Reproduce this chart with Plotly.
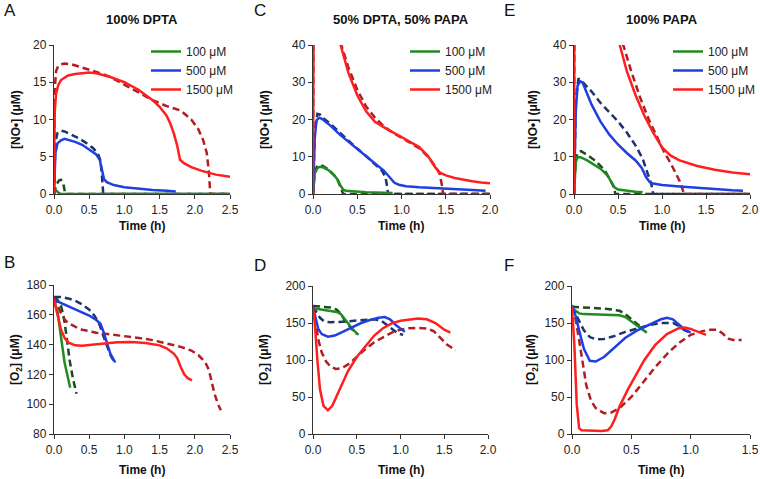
import plotly.graph_objects as go

# ---- colours ----
GREEN, BLUE, RED = "#1f8c1f", "#1f3fe0", "#ff1f1f"
DGREEN, DBLUE, DRED = "#1d4a1f", "#1d3468", "#b21d22"

LABELS = ["100 μM", "500 μM", "1500 μM"]

# ---- A: [NO] 100% DPTA ----
a_100_t = [0, 0.01, 0.03, 0.06, 0.1, 2.5]
a_100_v = [0, 0.4, 0.5, 0.2, 0, 0]
a_100d_t = [0, 0.03, 0.07, 0.1, 0.13, 0.15, 0.16, 2.5]
a_100d_v = [0, 1.2, 1.8, 1.9, 1.5, 0.6, 0, 0]
a_500_t = [0, 0.02, 0.05, 0.1, 0.15, 0.2, 0.3, 0.4, 0.5, 0.6, 0.65, 0.68, 0.71, 0.75, 0.85, 1.0, 1.2, 1.4, 1.6, 1.73]
a_500_v = [0, 5.5, 6.8, 7.2, 7.4, 7.3, 7.0, 6.6, 6.0, 5.3, 4.6, 3.5, 2.0, 1.6, 1.2, 0.9, 0.7, 0.55, 0.42, 0.35]
a_500d_t = [0, 0.02, 0.05, 0.1, 0.15, 0.25, 0.35, 0.45, 0.55, 0.62, 0.66, 0.68, 0.69, 0.7, 2.5]
a_500d_v = [0, 7.0, 8.2, 8.5, 8.4, 8.0, 7.5, 6.9, 6.2, 5.5, 4.5, 2.5, 0.8, 0, 0]
a_1500_t = [0, 0.01, 0.03, 0.06, 0.1, 0.2, 0.3, 0.4, 0.5, 0.6, 0.8, 1.0, 1.2, 1.4, 1.5, 1.6, 1.65, 1.7, 1.75, 1.79, 1.85, 1.95, 2.1, 2.3, 2.5]
a_1500_v = [0, 11, 13.5, 14.6, 15.3, 15.9, 16.1, 16.2, 16.3, 16.2, 15.7, 15.0, 14.0, 12.6, 11.7, 10.5, 9.5, 8.2, 6.5, 4.6, 4.1, 3.6, 3.1, 2.6, 2.3]
a_1500d_t = [0, 0.01, 0.03, 0.06, 0.1, 0.15, 0.25, 0.4, 0.6, 0.8, 1.0, 1.2, 1.4, 1.6, 1.8, 1.95, 2.05, 2.12, 2.17, 2.2, 2.21, 2.22, 2.5]
a_1500d_v = [0, 14, 16.5, 17.2, 17.4, 17.5, 17.4, 17.0, 16.4, 15.7, 14.7, 13.6, 12.6, 11.8, 11.2, 10.0, 8.7, 7.2, 5.5, 3.0, 1.0, 0, 0]

# ---- C: [NO] 50% DPTA, 50% PAPA ----
c_100_t = [0, 0.02, 0.05, 0.08, 0.12, 0.18, 0.24, 0.28, 0.31, 0.34, 0.37, 0.45, 0.6, 0.8, 0.9]
c_100_v = [0, 5.5, 7.0, 7.3, 7.1, 6.3, 5.0, 3.8, 2.3, 1.2, 0.9, 0.7, 0.5, 0.35, 0.3]
c_100d_t = [0, 0.02, 0.05, 0.08, 0.12, 0.18, 0.24, 0.28, 0.31, 0.33, 0.34, 2.0]
c_100d_v = [0, 6.2, 7.6, 7.8, 7.4, 6.5, 5.0, 3.6, 2.0, 0.8, 0, 0]
c_500_t = [0, 0.02, 0.04, 0.07, 0.1, 0.2, 0.3, 0.4, 0.5, 0.6, 0.7, 0.8, 0.85, 0.88, 0.92, 0.97, 1.05, 1.2, 1.4, 1.6, 1.8, 1.95]
c_500_v = [0, 15, 19.8, 20.5, 20.2, 18.3, 16.0, 14.0, 12.0, 10.1, 8.2, 6.3, 5.0, 4.0, 3.0, 2.5, 2.1, 1.8, 1.5, 1.3, 1.1, 0.9]
c_500d_t = [0, 0.02, 0.05, 0.08, 0.1, 0.2, 0.3, 0.4, 0.5, 0.6, 0.7, 0.78, 0.82, 0.84, 0.85, 2.0]
c_500d_v = [0, 17, 21.5, 21.3, 20.6, 18.8, 16.5, 14.3, 12.2, 10.2, 8.0, 6.2, 4.5, 2.0, 0, 0]
c_1500_t = [0, 0.004, 0.01, 0.1, 0.2, 0.3, 0.4, 0.5, 0.6, 0.7, 0.85, 1.0, 1.1, 1.2, 1.3, 1.38, 1.43, 1.5, 1.6, 1.7, 1.8, 1.9, 2.0]
c_1500_v = [0, 60, 80, 60, 48, 41, 32.5, 26.5, 22.2, 19.4, 17.2, 15.3, 14.0, 12.6, 10.2, 7.2, 5.8, 5.0, 4.3, 3.8, 3.4, 3.1, 2.9]
c_1500d_t = [0, 0.004, 0.01, 0.1, 0.2, 0.32, 0.4, 0.5, 0.6, 0.7, 0.8, 0.9, 1.0, 1.1, 1.2, 1.3, 1.38, 1.43, 1.46, 1.47, 2.0]
c_1500d_v = [0, 60, 85, 62, 50, 40, 34, 28, 23.5, 20.5, 18.2, 16.5, 15.0, 13.7, 12.3, 10.0, 7.5, 5.5, 2.0, 0, 0]

# ---- E: [NO] 100% PAPA ----
e_100_t = [0, 0.02, 0.04, 0.08, 0.15, 0.2, 0.3, 0.38, 0.43, 0.46, 0.5, 0.6, 0.7, 0.78]
e_100_v = [0, 8.5, 9.9, 9.8, 9.0, 8.3, 6.8, 5.0, 3.2, 1.8, 1.2, 0.8, 0.6, 0.5]
e_100d_t = [0, 0.02, 0.05, 0.08, 0.15, 0.25, 0.35, 0.41, 0.44, 0.46, 0.47, 2.0]
e_100d_v = [0, 9.5, 11.3, 11.5, 10.5, 8.8, 6.3, 4.0, 2.5, 1.0, 0, 0]
e_500_t = [0, 0.02, 0.04, 0.07, 0.1, 0.15, 0.2, 0.3, 0.4, 0.5, 0.6, 0.7, 0.77, 0.82, 0.86, 0.9, 1.0, 1.2, 1.4, 1.6, 1.8, 1.92]
e_500_v = [0, 22, 29, 30.3, 29.8, 27.0, 24.0, 19.5, 16.0, 13.3, 11.0, 9.0, 7.0, 4.5, 3.2, 2.8, 2.4, 2.0, 1.6, 1.3, 1.0, 0.9]
e_500d_t = [0, 0.02, 0.05, 0.1, 0.2, 0.3, 0.4, 0.5, 0.6, 0.7, 0.78, 0.84, 0.88, 0.9, 2.0]
e_500d_v = [0, 25, 31, 30, 27.5, 24.5, 22, 19.5, 16.5, 13, 9.5, 5.5, 2.5, 0, 0]
e_1500_t = [0, 0.004, 0.01, 0.2, 0.4, 0.52, 0.6, 0.7, 0.8, 0.9, 1.0, 1.1, 1.2, 1.4, 1.6, 1.8, 2.0]
e_1500_v = [0, 80, 120, 70, 50, 40, 33, 26.5, 21, 16.5, 12.5, 10.3, 9.0, 7.5, 6.5, 5.8, 5.3]
e_1500d_t = [0, 0.004, 0.01, 0.2, 0.4, 0.56, 0.65, 0.75, 0.85, 0.95, 1.03, 1.1, 1.15, 1.2, 1.23, 1.25, 2.0]
e_1500d_v = [0, 80, 120, 75, 52, 40, 33, 26, 20, 15, 11, 8.2, 6, 3.5, 1.5, 0, 0]

# ---- B: [O2] 100% DPTA ----
b_100_t = [0, 0.05, 0.1, 0.15, 0.23]
b_100_v = [170, 162, 145, 128, 111]
b_100d_t = [0, 0.05, 0.1, 0.14, 0.18, 0.22, 0.27, 0.32]
b_100d_v = [172, 170, 166, 158, 145, 130, 117, 107]
b_500_t = [0, 0.1, 0.2, 0.3, 0.4, 0.5, 0.6, 0.66, 0.7, 0.75, 0.8, 0.87]
b_500_v = [170, 168, 166, 164, 162, 159.5, 156.5, 154, 149, 141, 134, 128]
b_500d_t = [0, 0.1, 0.2, 0.3, 0.4, 0.5, 0.58, 0.65, 0.7, 0.75, 0.8, 0.85]
b_500d_v = [172, 172, 171, 169.5, 167, 163.5, 159, 153, 146, 139, 133, 129]
b_1500_t = [0, 0.03, 0.06, 0.1, 0.15, 0.2, 0.3, 0.4, 0.5, 0.7, 0.9, 1.1, 1.3, 1.5, 1.6, 1.7, 1.75, 1.8, 1.85, 1.9, 1.96]
b_1500_v = [170, 164, 157, 150, 144.5, 141.5, 139.5, 139.3, 139.7, 140.5, 141.5, 141.8, 141, 139.5, 137.5, 134, 131, 125, 120, 117.5, 116]
b_1500d_t = [0, 0.05, 0.1, 0.15, 0.2, 0.3, 0.4, 0.6, 0.8, 1.0, 1.2, 1.4, 1.6, 1.8, 1.95, 2.05, 2.15, 2.2, 2.24, 2.28, 2.33, 2.37]
b_1500d_v = [172, 166, 161, 157, 154.5, 152, 150, 148, 147, 146, 144.5, 143, 141, 138.5, 136, 133, 128, 123, 115, 107, 100, 96]

# ---- D: [O2] 50% DPTA, 50% PAPA ----
d_100_t = [0, 0.1, 0.2, 0.27, 0.32, 0.36, 0.4, 0.45, 0.52]
d_100_v = [170, 168, 166.5, 165, 162, 156, 149, 142, 134]
d_100d_t = [0, 0.1, 0.2, 0.27, 0.32, 0.36, 0.4, 0.45, 0.5]
d_100d_v = [173, 172.5, 171, 168, 162, 154, 148, 141, 135]
d_500_t = [0, 0.03, 0.06, 0.1, 0.17, 0.25, 0.35, 0.45, 0.55, 0.65, 0.75, 0.82, 0.88, 0.95, 1.05]
d_500_v = [172, 155, 142, 135, 131.5, 133, 139, 145, 150, 154, 157, 158, 155, 147, 138]
d_500d_t = [0, 0.04, 0.08, 0.13, 0.2, 0.3, 0.4, 0.5, 0.6, 0.7, 0.78, 0.85, 0.92, 0.97, 1.03]
d_500d_v = [172, 165, 157, 152, 151, 151.5, 152.5, 153.5, 154.5, 155, 153, 147, 140, 136, 134]
d_1500_t = [0, 0.02, 0.05, 0.08, 0.12, 0.17, 0.22, 0.3, 0.4, 0.5, 0.6, 0.7, 0.8, 0.9, 1.0, 1.1, 1.2, 1.3, 1.4, 1.5, 1.57]
d_1500_v = [172, 150, 100, 60, 38, 32, 38, 60, 85, 104, 119, 133, 143, 149.5, 153, 155, 156, 155, 150, 141, 137]
d_1500d_t = [0, 0.03, 0.06, 0.1, 0.15, 0.2, 0.26, 0.33, 0.4, 0.5, 0.6, 0.7, 0.8, 0.9, 1.0, 1.1, 1.2, 1.3, 1.38, 1.45, 1.53, 1.63]
d_1500d_v = [172, 150, 128, 110, 98, 91, 88, 89, 94, 104, 115, 124, 131, 137, 141, 143, 143.5, 142.5, 139, 130, 121, 113]

# ---- F: [O2] 100% PAPA ----
f_100_t = [0, 0.03, 0.06, 0.1, 0.2, 0.3, 0.4, 0.45, 0.5, 0.55, 0.6, 0.63]
f_100_v = [170, 166, 163, 162, 161.5, 161, 160.5, 158, 152, 146, 141, 137]
f_100d_t = [0, 0.1, 0.2, 0.3, 0.4, 0.45, 0.5, 0.55, 0.6]
f_100d_v = [172, 171, 170, 169, 166.5, 162, 155, 148, 142]
f_500_t = [0, 0.03, 0.06, 0.1, 0.15, 0.2, 0.27, 0.35, 0.45, 0.55, 0.65, 0.75, 0.8, 0.85, 0.9, 0.95, 1.0]
f_500_v = [174, 160, 140, 115, 99, 98, 104, 116, 130, 140, 148, 155, 157, 155, 148, 141, 137]
f_500d_t = [0, 0.03, 0.06, 0.1, 0.15, 0.2, 0.27, 0.35, 0.45, 0.55, 0.65, 0.75, 0.85, 0.9, 0.95, 1.0]
f_500d_v = [172, 163, 153, 140, 131, 128, 128.5, 132, 138, 143, 147, 150, 150, 146, 140, 137]
f_1500_t = [0, 0.02, 0.04, 0.06, 0.08, 0.15, 0.25, 0.3, 0.33, 0.36, 0.4, 0.47, 0.55, 0.61, 0.7, 0.8, 0.9, 0.95, 1.0, 1.07, 1.13]
f_1500_v = [172, 120, 40, 8, 5, 4.5, 4, 5, 10, 20, 37, 60, 83, 100, 120, 135, 143, 144, 142, 138, 134]
f_1500d_t = [0, 0.03, 0.06, 0.09, 0.12, 0.16, 0.2, 0.27, 0.33, 0.4, 0.5, 0.6, 0.7, 0.8, 0.9, 1.0, 1.1, 1.17, 1.22, 1.27, 1.31, 1.36, 1.43]
f_1500d_v = [172, 155, 127, 95, 66, 45, 35, 28, 29, 35, 50, 70, 90, 108, 123, 134, 139, 141, 141, 136, 129, 127, 127]

panels = [
    # axis suffix, solid series, dashed series, legend name
    ("", [(a_100_t, a_100_v), (a_500_t, a_500_v), (a_1500_t, a_1500_v)],
     [(a_100d_t, a_100d_v), (a_500d_t, a_500d_v), (a_1500d_t, a_1500d_v)], "legend"),
    ("2", [(c_100_t, c_100_v), (c_500_t, c_500_v), (c_1500_t, c_1500_v)],
     [(c_100d_t, c_100d_v), (c_500d_t, c_500d_v), (c_1500d_t, c_1500d_v)], "legend2"),
    ("3", [(e_100_t, e_100_v), (e_500_t, e_500_v), (e_1500_t, e_1500_v)],
     [(e_100d_t, e_100d_v), (e_500d_t, e_500d_v), (e_1500d_t, e_1500d_v)], "legend3"),
    ("4", [(b_100_t, b_100_v), (b_500_t, b_500_v), (b_1500_t, b_1500_v)],
     [(b_100d_t, b_100d_v), (b_500d_t, b_500d_v), (b_1500d_t, b_1500d_v)], None),
    ("5", [(d_100_t, d_100_v), (d_500_t, d_500_v), (d_1500_t, d_1500_v)],
     [(d_100d_t, d_100d_v), (d_500d_t, d_500d_v), (d_1500d_t, d_1500d_v)], None),
    ("6", [(f_100_t, f_100_v), (f_500_t, f_500_v), (f_1500_t, f_1500_v)],
     [(f_100d_t, f_100d_v), (f_500d_t, f_500d_v), (f_1500d_t, f_1500d_v)], None),
]

fig = go.Figure()

for sfx, solid, dashed, leg in panels:
    xa, ya = "x" + sfx, "y" + sfx
    for (t, v), col in zip(dashed, [DGREEN, DBLUE, DRED]):
        fig.add_trace(go.Scatter(x=t, y=v, xaxis=xa, yaxis=ya, mode="lines",
                                 line=dict(color=col, width=2.5, dash="7px,4px"),
                                 showlegend=False, hoverinfo="skip"))
    for (t, v), col, lab in zip(solid, [GREEN, BLUE, RED], LABELS):
        fig.add_trace(go.Scatter(x=t, y=v, xaxis=xa, yaxis=ya, mode="lines",
                                 line=dict(color=col, width=2.5),
                                 name=lab, showlegend=leg is not None,
                                 legend=leg or "legend"))

W, H = 760, 479


def px_dom(a, b):
    return [a / W, b / W]


def py_dom(top, bottom):
    return [1 - bottom / H, 1 - top / H]


FONT = "Liberation Sans, Arial, sans-serif"
axis_common = dict(showline=True, linecolor="#333", linewidth=1.3, ticks="outside",
                   ticklen=4, tickcolor="#333", showgrid=False, zeroline=False,
                   automargin=False,
                   tickfont=dict(family=FONT, size=12, color="#222"))

layout_axes = {}
specs = [
    ("", (54, 230), (45, 194), [0, 2.5], [0, 20], 5),
    ("2", (313, 490), (45, 194), [0, 2.0], [0, 40], 10),
    ("3", (574, 750), (45, 194), [0, 2.0], [0, 40], 10),
    ("4", (54, 230), (285, 434), [0, 2.5], [80, 180], 20),
    ("5", (313, 488), (286, 434), [0, 2.0], [0, 200], 50),
    ("6", (572, 750), (286, 434), [0, 1.5], [0, 200], 50),
]
for sfx, (x0, x1), (t0, t1), xr, yr, dy in specs:
    layout_axes["xaxis" + sfx] = dict(axis_common, domain=px_dom(x0, x1), range=xr,
                                      dtick=0.5, tick0=0, tickformat=".1f",
                                      anchor="y" + sfx)
    layout_axes["yaxis" + sfx] = dict(axis_common, domain=py_dom(t0, t1), range=yr,
                                      dtick=dy, tick0=0, anchor="x" + sfx)


def label(text, x, y, size=12, angle=0, xanchor="center"):
    return dict(text=text, x=x / W, y=1 - y / H, xref="paper", yref="paper",
                xanchor=xanchor, yanchor="middle", showarrow=False, textangle=angle,
                font=dict(family=FONT, size=size, color="#111"))


ann = []
# panel titles
for txt, cx in [("100% DPTA", 142), ("50% DPTA, 50% PAPA", 401), ("100% PAPA", 662)]:
    ann.append(label("<b>" + txt + "</b>", cx, 19, size=13))
# panel letters
for txt, x, y in [("A", 2, 10), ("C", 252, 10), ("E", 502, 10),
                  ("B", 2, 262), ("D", 252, 265), ("F", 502, 265)]:
    ann.append(label(txt, x, y, size=17, xanchor="left"))
# x titles
for cx, y in [(142, 226), (401, 226), (662, 226), (142, 470), (401, 470), (661, 470)]:
    ann.append(label("<b>Time (h)</b>", cx, y))
# y titles
for txt, x, cy in [("[NO•] (μM)", 16, 120), ("[NO•] (μM)", 265, 120), ("[NO•] (μM)", 533, 120),
                   ("[O<sub>2</sub>] (μM)", 16, 360), ("[O<sub>2</sub>] (μM)", 265, 360),
                   ("[O<sub>2</sub>] (μM)", 532, 360)]:
    ann.append(label("<b>" + txt + "</b>", x, cy, angle=-90))

leg_common = dict(xanchor="left", yanchor="top", bgcolor="rgba(0,0,0,0)",
                  font=dict(family=FONT, size=12, color="#222"), itemwidth=30,
                  tracegroupgap=0)

fig.update_layout(
    width=W, height=H,
    margin=dict(l=0, r=0, t=0, b=0, autoexpand=False),
    paper_bgcolor="white", plot_bgcolor="white",
    annotations=ann,
    legend=dict(leg_common, x=146 / W, y=1 - 37 / H),
    legend2=dict(leg_common, x=405 / W, y=1 - 37 / H),
    legend3=dict(leg_common, x=668 / W, y=1 - 37 / H),
    **layout_axes,
)

fig.write_html("out.html", config={"displayModeBar": False},
               post_script="document.body.style.margin='0';")
